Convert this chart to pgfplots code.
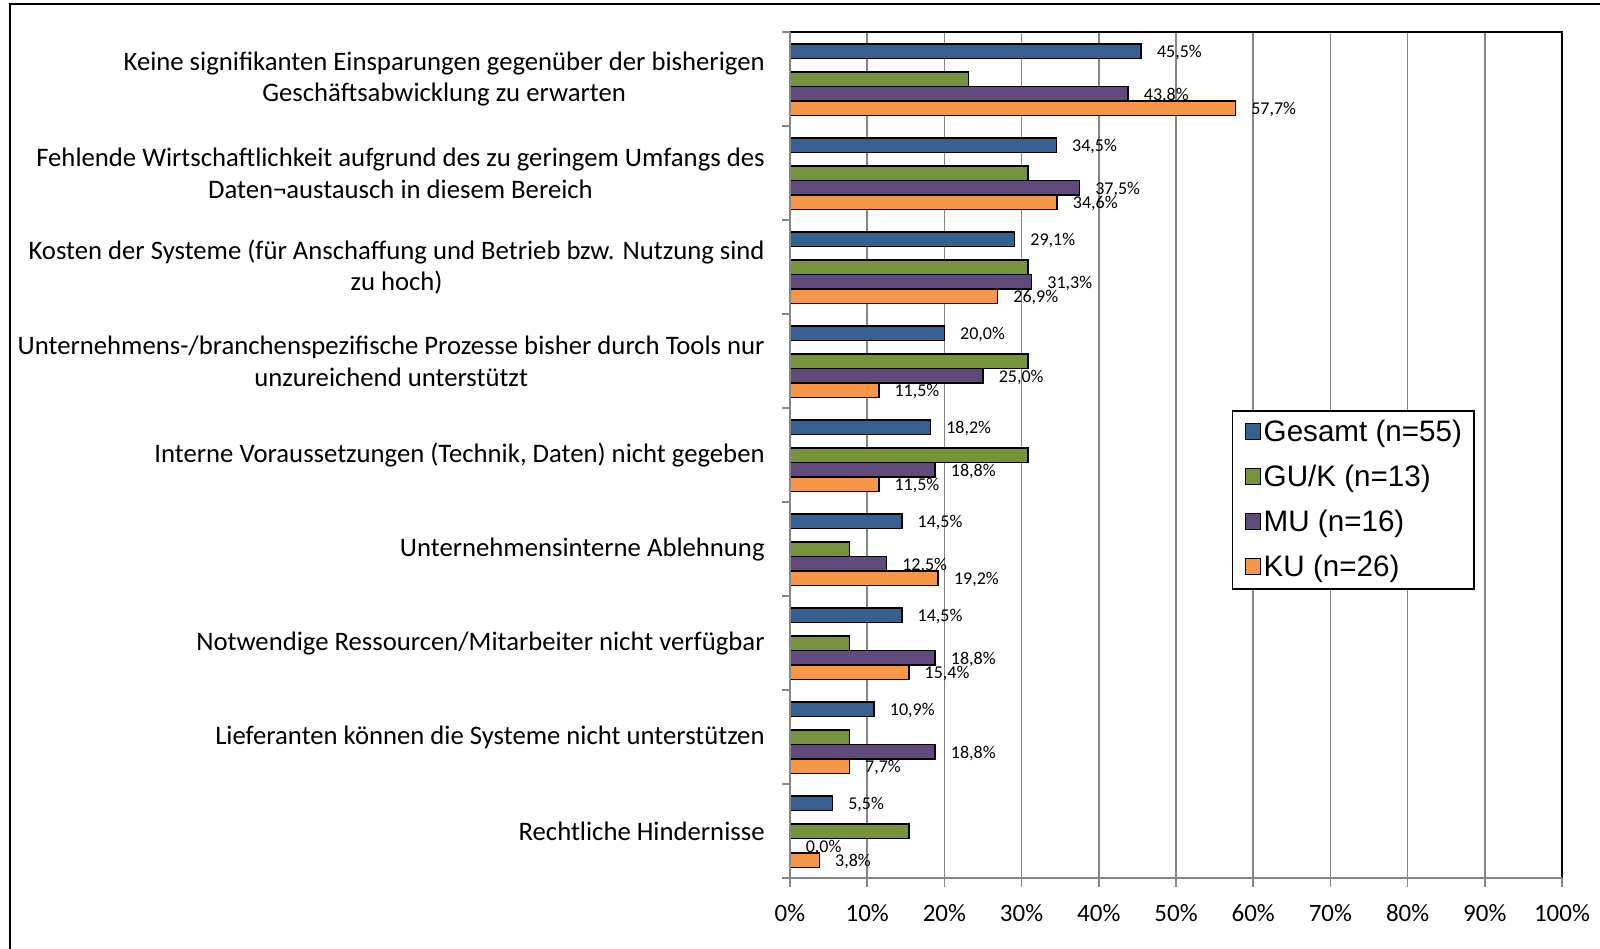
\documentclass[border=0pt]{standalone}
\usepackage{pgfplots}
\pgfplotsset{compat=1.18}
\usepackage{pgfplotstable}
\usepackage{fontspec}
\setmainfont{Carlito}
\newfontfamily\legfont{Liberation Sans}
\definecolor{cG}{RGB}{55,96,146}
\definecolor{cGU}{RGB}{119,147,60}
\definecolor{cMU}{RGB}{96,74,123}
\definecolor{cKU}{RGB}{247,150,70}
\definecolor{gridgray}{RGB}{134,134,134}

\pgfplotstableread{
cat G GUK MU KU
0 45.5 23.1 43.8 57.7
1 34.5 30.8 37.5 34.6
2 29.1 30.8 31.3 26.9
3 20.0 30.8 25.0 11.5
4 18.2 30.8 18.8 11.5
5 14.5 7.7 12.5 19.2
6 14.5 7.7 18.8 15.4
7 10.9 7.7 18.8 7.7
8 5.5 15.4 0.0 3.8
}\data

\begin{document}
\begin{tikzpicture}
\useasboundingbox (0,0) rectangle (800pt,-474pt);
\draw[line width=1pt] (5pt,-480pt) -- (5pt,-2pt) -- (810pt,-2pt);
\begin{axis}[
  at={(395pt,-439pt)}, anchor=south west,
  scale only axis, width=386pt, height=423pt,
  xmin=0, xmax=100, ymin=-0.5, ymax=8.5, y dir=reverse,
  clip=false,
  axis line style={draw=none},
  xtick={0,10,...,100},
  xticklabel={\pgfmathprintnumber{\tick}\%},
  /pgf/number format/assume math mode=true,
  xticklabel style={font=\fontsize{12.5}{15}\selectfont, inner sep=0pt, anchor=north, yshift=-8.6pt},
  ytick={0,...,8},
  yticklabels={
    {Keine signifikanten Einsparungen gegenüber der bisherigen\\Geschäftsabwicklung zu erwarten},
    {Fehlende Wirtschaftlichkeit aufgrund des zu geringem Umfangs des\\Daten¬austausch in diesem Bereich},
    {Kosten der Systeme (für Anschaffung und Betrieb bzw. Nutzung sind\\zu hoch)},
    {Unternehmens-/branchenspezifische Prozesse bisher durch Tools nur\\unzureichend unterstützt},
    {Interne Voraussetzungen (Technik, Daten) nicht gegeben},
    {Unternehmensinterne Ablehnung},
    {Notwendige Ressourcen/Mitarbeiter nicht verfügbar},
    {Lieferanten können die Systeme nicht unterstützen},
    {Rechtliche Hindernisse}},
  yticklabel style={font=\fontsize{13.35}{15.8}\selectfont, align=center, anchor=east, inner sep=0pt, xshift=-8pt},
  minor ytick={-0.5,0.5,...,8.5},
  tick align=outside, tick pos=left,
  major tick length=4.5pt, minor tick length=4pt,
  every major y tick/.style={draw=none},
  every tick/.style={gridgray, line width=0.75pt},
  xmajorgrids, major grid style={gridgray, line width=0.75pt},
  xbar, bar width=7.2pt, bar shift=0pt,
  every axis plot/.append style={draw=black, line width=0.8pt},
  point meta=x,
  legend style={at={(0.5725,0.5532)}, anchor=north west, draw=black, line width=0.75pt,
    font=\legfont\fontsize{14.8}{16}\selectfont, inner xsep=6pt, inner ysep=4pt,
    row sep=9pt, nodes={inner sep=0pt, text height=11.5pt, text depth=2pt, anchor=west, xshift=3pt},
    cells={anchor=west}},
  legend image code/.code={\draw[#1, line width=0.6pt] (0pt,-3.5pt) rectangle (7.7pt,4.3pt); \path[draw=none, fill=none] (0pt,-4.3pt) -- (9.2pt,4.3pt);},
  nodes near coords style={font=\fontsize{9}{10}\selectfont, inner sep=0pt, anchor=west, xshift=7.5pt, yshift=-0.8pt, text=black},
]
\addplot[fill=cG, nodes near coords={\pgfmathprintnumber[fixed,fixed zerofill,precision=1,use comma]{\pgfplotspointmeta}\%}]
  table[x=G, y expr=\thisrow{cat}-0.295] {\data};
\addlegendentry{Gesamt (n=55)}
\addplot[fill=cGU] table[x=GUK, y expr=\thisrow{cat}+0.003] {\data};
\addlegendentry{GU/K (n=13)}
\addplot[fill=cMU, nodes near coords={\pgfmathprintnumber[fixed,fixed zerofill,precision=1,use comma]{\pgfplotspointmeta}\%}]
  table[x=MU, y expr=\thisrow{cat}+0.157] {\data};
\addlegendentry{MU (n=16)}
\addplot[fill=cKU, nodes near coords={\pgfmathprintnumber[fixed,fixed zerofill,precision=1,use comma]{\pgfplotspointmeta}\%}]
  table[x=KU, y expr=\thisrow{cat}+0.312] {\data};
\addlegendentry{KU (n=26)}
\draw[black, line width=0.9pt] (rel axis cs:0,1) -- (rel axis cs:1,1) -- (rel axis cs:1,0);
\draw[gridgray, line width=0.9pt] (rel axis cs:0,1) -- (rel axis cs:0,0) -- (rel axis cs:1,0);
\end{axis}
\end{tikzpicture}
\end{document}
